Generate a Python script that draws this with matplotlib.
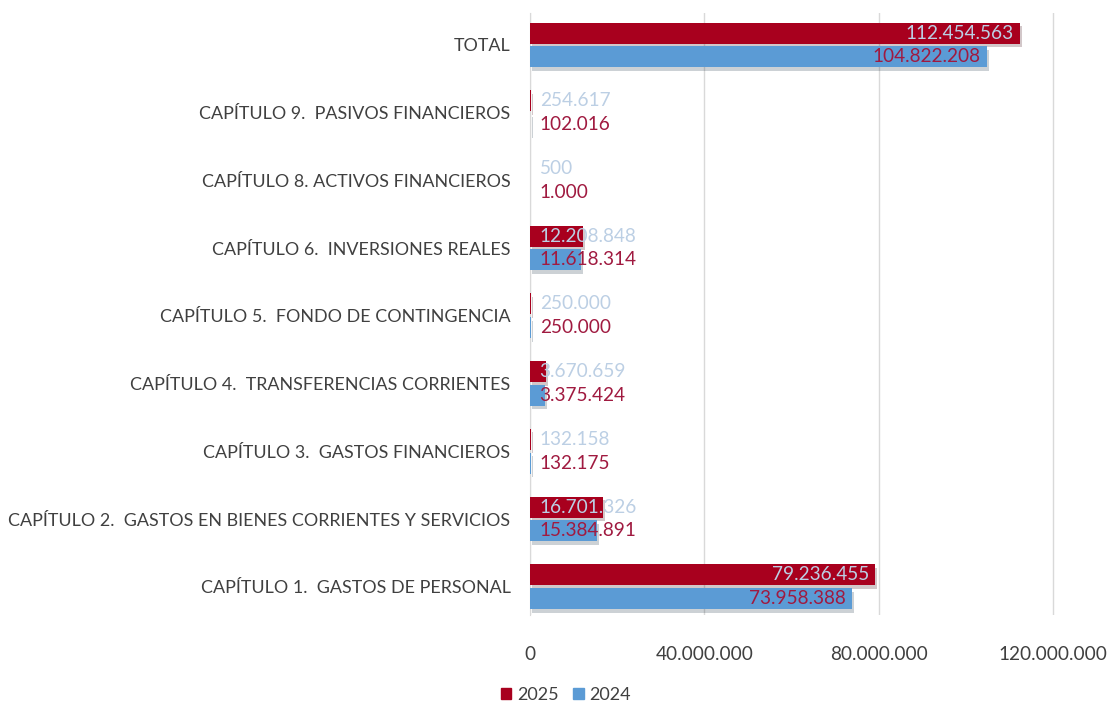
import matplotlib.pyplot as plt
import matplotlib.ticker as mticker
import matplotlib.patheffects as pe
from matplotlib.patches import Patch

plt.rcParams['font.family'] = ['Lato', 'DejaVu Sans']

# categories from bottom to top
categories = [
    "CAPÍTULO 1.  GASTOS DE PERSONAL",
    "CAPÍTULO 2.  GASTOS EN BIENES CORRIENTES Y SERVICIOS",
    "CAPÍTULO 3.  GASTOS FINANCIEROS",
    "CAPÍTULO 4.  TRANSFERENCIAS CORRIENTES",
    "CAPÍTULO 5.  FONDO DE CONTINGENCIA",
    "CAPÍTULO 6.  INVERSIONES REALES",
    "CAPÍTULO 8. ACTIVOS FINANCIEROS",
    "CAPÍTULO 9.  PASIVOS FINANCIEROS",
    "TOTAL",
]
values_2025 = [79236455, 16701326, 132158, 3670659, 250000, 12208848, 500, 254617, 112454563]
values_2024 = [73958388, 15384891, 132175, 3375424, 250000, 11618314, 1000, 102016, 104822208]

red = "#A8001E"
blue = "#5B9BD5"
lab25 = "#BCCFE4"
lab24 = "#A01A40"
grey = "#404040"

def fmt(v):
    return "{:,}".format(v).replace(",", ".")

fig = plt.figure(figsize=(11.1, 7.04), dpi=100)
ax = fig.add_axes([0.4775, 0.126, 0.5025, 0.8555])

h = 0.31
y = list(range(len(categories)))
shadow = [pe.SimplePatchShadow(offset=(1.5, -2.5), alpha=0.22), pe.Normal()]
bars25 = ax.barh([i + h / 2 + 0.02 for i in y], values_2025, height=h, color=red, zorder=3)
bars24 = ax.barh([i - h / 2 - 0.02 for i in y], values_2024, height=h, color=blue, zorder=3)
for b in list(bars25) + list(bars24):
    b.set_path_effects(shadow)

for i in y:
    for v, off, c in ((values_2025[i], h / 2 + 0.02, lab25), (values_2024[i], -h / 2 - 0.02, lab24)):
        if v > 40000000:
            ax.text(v - 1500000, i + off, fmt(v), ha="right", va="center", color=c, fontsize=13.7, zorder=4)
        else:
            ax.text(2200000, i + off, fmt(v), ha="left", va="center", color=c, fontsize=13.7, zorder=4)

ax.set_xlim(0, 128000000)
ax.set_ylim(-0.42, 8.47)
ax.set_xticks([0, 40000000, 80000000, 120000000])
ax.xaxis.set_major_formatter(mticker.FuncFormatter(lambda v, p: fmt(int(v))))
ax.set_yticks(y)
ax.set_yticklabels(categories)
ax.grid(axis="x", color="#D9D9D9", linewidth=1, zorder=0)
for s in ["top", "right", "bottom"]:
    ax.spines[s].set_visible(False)
ax.spines["left"].set_color("#D9D9D9")
ax.tick_params(axis="x", length=0, pad=22, labelsize=13.7, labelcolor=grey)
ax.tick_params(axis="y", length=0, pad=14, labelsize=12.9, labelcolor=grey)

handles = [Patch(color=red, label="2025"), Patch(color=blue, label="2024")]
ax.legend(handles=handles, loc="upper left", bbox_to_anchor=(-0.082, -0.092), ncol=2, frameon=False,
          fontsize=13, handlelength=0.6, handleheight=0.6, handletextpad=0.3, columnspacing=0.8,
          labelcolor=grey)

plt.savefig("out.png", dpi=100)
